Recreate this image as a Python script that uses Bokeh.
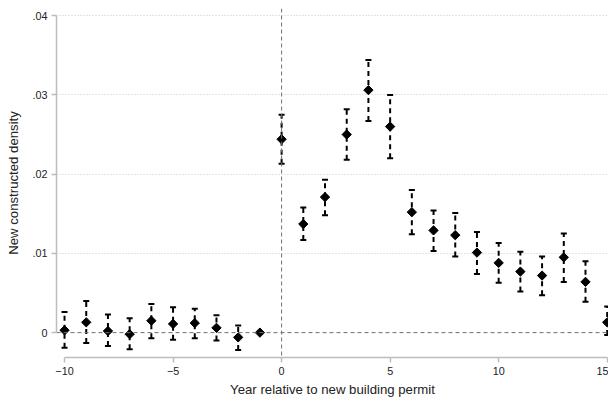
import math
from bokeh.plotting import figure
from bokeh.models import Span, Range1d, FixedTicker, Grid
from bokeh.embed import file_html
from bokeh.resources import INLINE

# ---- data ----
years = [-10, -9, -8, -7, -6, -5, -4, -3, -2, -1, 0, 1, 2, 3, 4, 5,
         6, 7, 8, 9, 10, 11, 12, 13, 14, 15]
coef = [0.0003, 0.0013, 0.0002, -0.0002, 0.0015, 0.0011, 0.0012, 0.0006, -0.0006, 0.0,
        0.0244, 0.0137, 0.0171, 0.0250, 0.0306, 0.0260,
        0.0152, 0.0129, 0.0123, 0.0101, 0.0088, 0.0077, 0.0072, 0.0095, 0.0064, 0.0013]
ci_hi = [0.0026, 0.0040, 0.0023, 0.0018, 0.0036, 0.0032, 0.0030, 0.0022, 0.0009, None,
         0.0275, 0.0158, 0.0193, 0.0282, 0.0344, 0.0300,
         0.0180, 0.0154, 0.0151, 0.0127, 0.0113, 0.0102, 0.0096, 0.0125, 0.0090, 0.0033]
ci_lo = [-0.0019, -0.0013, -0.0017, -0.0021, -0.0007, -0.0009, -0.0007, -0.0010, -0.0022, None,
         0.0213, 0.0117, 0.0148, 0.0218, 0.0267, 0.0220,
         0.0124, 0.0103, 0.0096, 0.0074, 0.0063, 0.0052, 0.0047, 0.0064, 0.0039, -0.0003]
x_ticks = [-10, -5, 0, 5, 10, 15]
y_ticks = [0, 0.01, 0.02, 0.03, 0.04]
y_tick_labels = ["0", ".01", ".02", ".03", ".04"]
x_title = "Year relative to new building permit"
y_title = "New constructed density"

FONT = "Liberation Sans"
AXIS_GRAY = "#bdbdbd"
TEXT = "#222222"

p = figure(width=608, height=399, output_backend="svg", toolbar_location=None,
           x_range=Range1d(-10.37, 15.06), y_range=Range1d(-0.00314, 0.0409),
           min_border_left=56, min_border_right=0, min_border_top=8, min_border_bottom=40)
p.outline_line_color = None
p.background_fill_color = "white"
p.border_fill_color = "white"
p.xgrid.visible = False
p.ygrid.visible = False

# dotted horizontal grid
grid = Grid(dimension=1, ticker=FixedTicker(ticks=[t for t in y_ticks if t != 0]),
            grid_line_color="#c8c8c8", grid_line_dash="1 2", grid_line_width=1)
p.add_layout(grid)

# reference lines
p.add_layout(Span(location=0, dimension="width", line_color="#707070",
                  line_dash="4 3", line_width=1))
p.add_layout(Span(location=0, dimension="height", line_color="#707070",
                  line_dash="4 3", line_width=1))

# error bars
ex = [x for x, h in zip(years, ci_hi) if h is not None]
eh = [h for h in ci_hi if h is not None]
el = [l for l in ci_lo if l is not None]
p.segment(x0=ex, y0=el, x1=ex, y1=eh, line_color="black", line_width=2, line_dash="5 4")
p.scatter(x=ex, y=eh, marker="dash", size=6, line_color="black", line_width=2)
p.scatter(x=ex, y=el, marker="dash", size=6, line_color="black", line_width=2)

# point estimates
p.scatter(x=years, y=coef, marker="square", angle=math.pi / 4, size=6.6,
          fill_color="black", line_color="black", line_width=1)

# axes
xa = p.xaxis[0]
xa.ticker = FixedTicker(ticks=x_ticks)
xa.bounds = (-10, 15)
xa.axis_label = x_title
ya = p.yaxis[0]
ya.ticker = FixedTicker(ticks=y_ticks)
ya.bounds = (0, 0.04)
ya.axis_label = y_title
ya.major_label_overrides = {t: l for t, l in zip(y_ticks, y_tick_labels)}
ya.major_label_orientation = "horizontal"

for ax in (xa, ya):
    ax.axis_line_color = AXIS_GRAY
    ax.axis_line_width = 1.5
    ax.major_tick_line_color = AXIS_GRAY
    ax.major_tick_line_width = 1.5
    ax.major_tick_out = 5
    ax.major_tick_in = 0
    ax.minor_tick_line_color = None
    ax.major_label_text_font = FONT
    ax.major_label_text_font_size = "10.8px"
    ax.major_label_text_color = TEXT
    ax.axis_label_text_font = FONT
    ax.axis_label_text_font_size = "13.2px"
    ax.axis_label_text_font_style = "normal"
    ax.axis_label_text_color = TEXT
xa.major_label_standoff = 4
xa.axis_label_standoff = 4
ya.major_label_standoff = 4
ya.axis_label_standoff = 8

open("out.html", "w").write(file_html(p, INLINE))
